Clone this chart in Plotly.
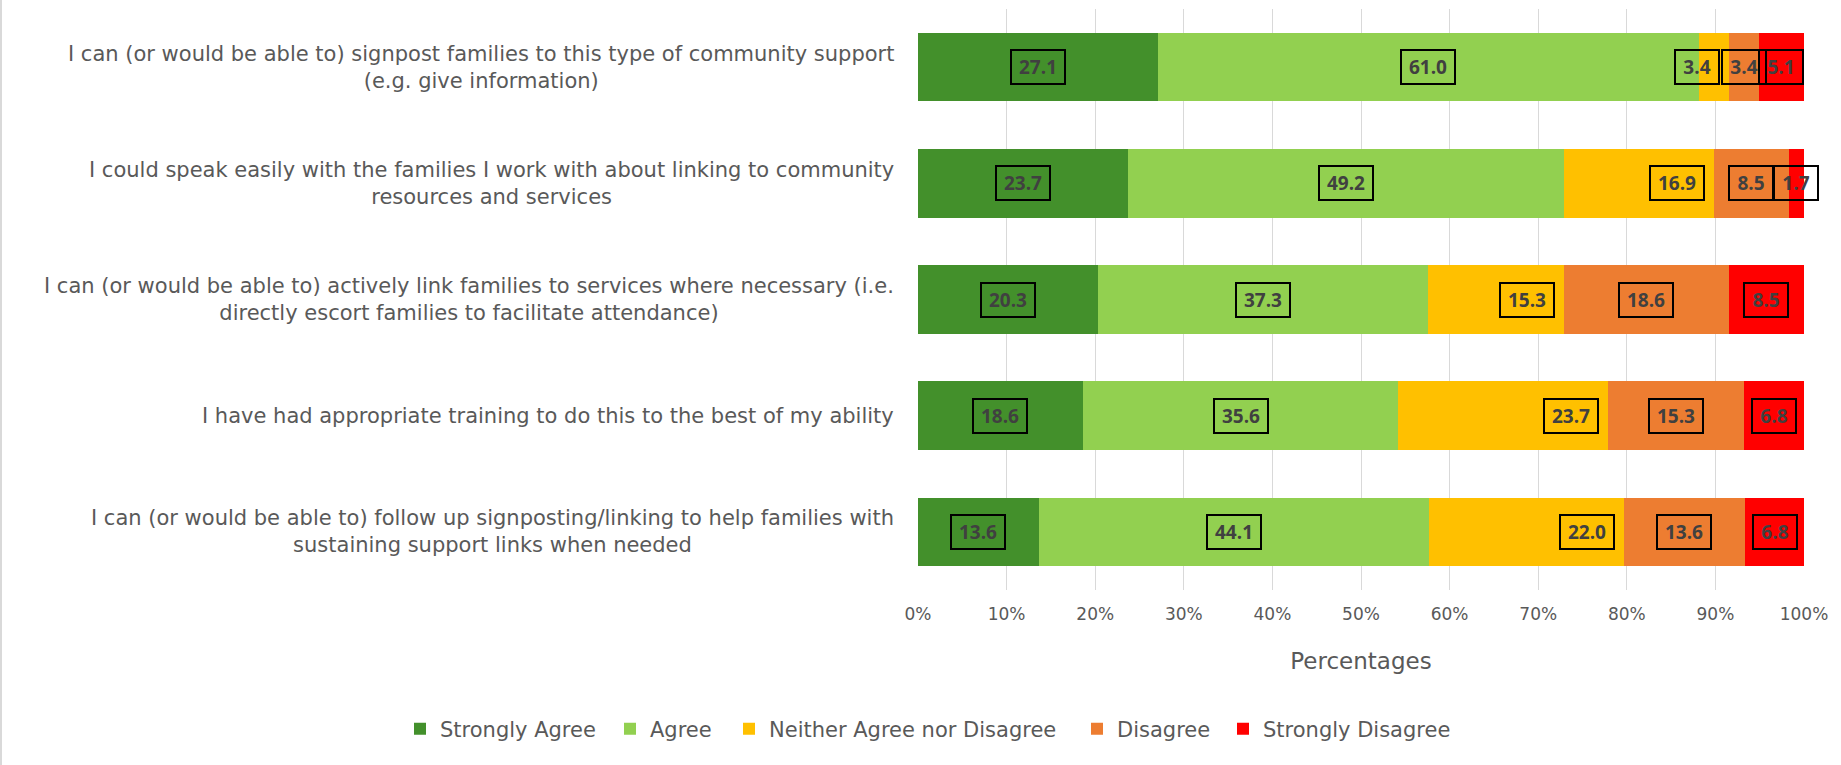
import plotly.graph_objects as go

# Survey statements (top to bottom)
statements = [
    "I can (or would be able to) signpost families to this type of community support<br>(e.g. give information)",
    "I could speak easily with the families I work with about linking to community<br>resources and services",
    "I can (or would be able to) actively link families to services where necessary (i.e.<br>directly escort families to facilitate attendance)",
    "I have had appropriate training to do this to the best of my ability",
    "I can (or would be able to) follow up signposting/linking to help families with<br>sustaining support links when needed",
]

# Response shares (%) per statement
strongly_agree = [27.1, 23.7, 20.3, 18.6, 13.6]
agree = [61.0, 49.2, 37.3, 35.6, 44.1]
neither = [3.4, 16.9, 15.3, 23.7, 22.0]
disagree = [3.4, 8.5, 18.6, 15.3, 13.6]
strongly_disagree = [5.1, 1.7, 8.5, 6.8, 6.8]

series_names = ["Strongly Agree", "Agree", "Neither Agree nor Disagree",
                "Disagree", "Strongly Disagree"]
series_values = [strongly_agree, agree, neither, disagree, strongly_disagree]
series_colors = ["#43902B", "#92D050", "#FFC000", "#ED7D31", "#FF0000"]

x_ticks = list(range(0, 101, 10))
x_tick_labels = [f"{t}%" for t in x_ticks]

FONT = "'DejaVu Sans', Verdana, sans-serif"
LABEL_FONT = "'Open Sans', sans-serif"
TEXT_COLOR = "#595959"
LABEL_COLOR = "#404040"

W, H = 1841, 765
# left edge (px) of each legend entry's text
legend_text_left = [440, 650, 769, 1117, 1263]

fig = go.Figure()
legend_ids = ["legend", "legend2", "legend3", "legend4", "legend5"]
for name, vals, col, lid in zip(series_names, series_values, series_colors, legend_ids):
    fig.add_trace(go.Bar(
        y=statements, x=vals, name=name, orientation="h",
        marker=dict(color=col, line=dict(width=0)),
        hoverinfo="x+name", legend=lid,
    ))

# Boxed value labels on each segment
annotations = []
for i, stmt in enumerate(statements):
    start = 0.0
    for s, vals in enumerate(series_values):
        v = vals[i]
        end = start + v
        txt = f"{v:.1f}"
        w = 44 if v >= 10 else 34
        common = dict(
            y=stmt, xref="x", yref="y", text=f"<b>{txt}</b>", showarrow=False,
            font=dict(family=LABEL_FONT, size=19, color=LABEL_COLOR),
            bordercolor="#000000", borderwidth=2, borderpad=4,
            width=w, height=24, align="center", valign="middle",
        )
        if s == 2:
            # neutral labels sit at the inner end of their segment
            annotations.append(dict(x=end, xanchor="right", xshift=-9, **common))
        else:
            annotations.append(dict(x=(start + end) / 2, xanchor="center", **common))
        start = end

# Category labels, centred line by line
for stmt in statements:
    annotations.append(dict(
        x=0, y=stmt, xref="paper", yref="y", text=stmt, showarrow=False,
        xanchor="right", xshift=-22, align="center",
        font=dict(family=FONT, size=21, color=TEXT_COLOR),
    ))

legend_style = dict(
    orientation="h", xref="container", yref="container",
    xanchor="left", y=1 - 729 / H, yanchor="middle",
    font=dict(family=FONT, size=21, color=TEXT_COLOR),
    itemwidth=30, bgcolor="rgba(0,0,0,0)", borderwidth=0,
)
legends = {}
for lid, tx in zip(legend_ids, legend_text_left):
    legends[lid] = dict(x=(tx - 40) / W, **legend_style)

fig.update_layout(
    barmode="stack",
    bargap=0.41,
    width=W, height=H,
    margin=dict(l=918, r=37, t=9, b=175, autoexpand=False),
    paper_bgcolor="#FFFFFF", plot_bgcolor="#FFFFFF",
    font=dict(family=FONT, color=TEXT_COLOR),
    annotations=annotations,
    showlegend=True,
    xaxis=dict(
        range=[0, 100], tickvals=x_ticks, ticktext=x_tick_labels,
        showgrid=True, gridcolor="#D9D9D9", gridwidth=1,
        zeroline=False, showline=False, ticks="",
        ticklabelstandoff=12,
        tickfont=dict(family=FONT, size=17, color=TEXT_COLOR),
        title=dict(text="Percentages", standoff=29,
                   font=dict(family=FONT, size=23, color=TEXT_COLOR)),
        fixedrange=True,
    ),
    yaxis=dict(
        autorange="reversed", showticklabels=False, showgrid=False,
        zeroline=False, showline=False, ticks="", fixedrange=True,
    ),
    shapes=[dict(
        type="line", xref="paper", yref="paper",
        x0=-917 / 886, x1=-917 / 886, y0=-175 / 581, y1=1 + 9 / 581,
        line=dict(color="#D9D9D9", width=2),
    )],
    **legends,
)

fig.write_html("out.html")
